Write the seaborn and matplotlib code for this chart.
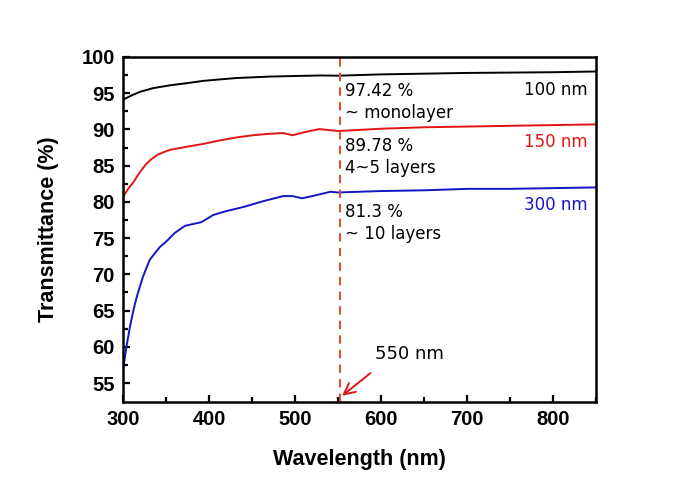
import numpy as np
import pandas as pd
import matplotlib
matplotlib.use("Agg")
import matplotlib.pyplot as plt
import seaborn as sns

# transmittance curves
wl_100 = [300, 310, 320, 335, 355, 375, 393, 412, 432, 452, 471, 490, 509, 530, 550, 600, 650, 700, 750, 800, 850]
t_100 = [94.1, 94.7, 95.2, 95.7, 96.1, 96.4, 96.7, 96.9, 97.1, 97.2, 97.3, 97.35, 97.4, 97.45, 97.42, 97.6, 97.7, 97.8, 97.85, 97.9, 98.0]

wl_150 = [300, 306, 312, 319, 326, 333, 340, 348, 355, 374, 393, 413, 432, 451, 470, 486, 497, 510, 528, 550, 600, 650, 700, 750, 800, 850]
t_150 = [80.7, 81.8, 82.7, 84.0, 85.1, 85.9, 86.5, 86.9, 87.2, 87.6, 88.0, 88.5, 88.9, 89.2, 89.4, 89.5, 89.2, 89.6, 90.05, 89.78, 90.1, 90.3, 90.4, 90.5, 90.6, 90.7]

wl_300 = [300, 304, 308, 312, 316, 323, 331, 343, 350, 360, 372, 391, 405, 419, 440, 463, 486, 497, 508, 520, 541, 550, 600, 650, 700, 750, 800, 850]
t_300 = [56.8, 60.0, 62.7, 65.0, 66.9, 69.6, 72.0, 73.8, 74.5, 75.7, 76.7, 77.2, 78.2, 78.7, 79.3, 80.1, 80.8, 80.8, 80.5, 80.8, 81.4, 81.3, 81.5, 81.6, 81.8, 81.8, 81.9, 82.0]

series_names = ["100 nm", "150 nm", "300 nm"]
series_colors = ["#000000", "#e31414", "#1414c8"]
notes = ["97.42 %\n~ monolayer", "89.78 %\n4~5 layers", "81.3 %\n~ 10 layers"]

df = pd.concat([
    pd.DataFrame({"wl": wl_100, "T": t_100, "film": series_names[0]}),
    pd.DataFrame({"wl": wl_150, "T": t_150, "film": series_names[1]}),
    pd.DataFrame({"wl": wl_300, "T": t_300, "film": series_names[2]}),
])

sns.set_style("ticks")
plt.rcParams["font.family"] = ["DejaVu Sans"]
plt.rcParams["text.color"] = "black"
plt.rcParams["xtick.color"] = "black"
plt.rcParams["ytick.color"] = "black"

fig = plt.figure(figsize=(6.91, 4.83), dpi=100)
ax = fig.add_axes([0.178, 0.168, 0.685, 0.714])

sns.lineplot(data=df, x="wl", y="T", hue="film", palette=series_colors,
             hue_order=series_names, linewidth=1.4, legend=False, ax=ax)

ax.axvline(552, color="#d9542b", linestyle=(0, (4, 3)), linewidth=1.5)

ax.set_xlim(300, 850)
ax.set_ylim(52.4, 100)
ax.set_xticks([300, 400, 500, 600, 700, 800])
ax.set_xticks(np.arange(350, 851, 100), minor=True)
ax.set_yticks(np.arange(55, 101, 5))
ax.set_yticks(np.arange(57.5, 100, 5), minor=True)
ax.tick_params(which="both", direction="in", width=1.6, top=False, right=False)
ax.tick_params(which="major", length=5, pad=6)
ax.tick_params(which="minor", length=3.5)
for sp in ax.spines.values():
    sp.set_linewidth(1.8)
    sp.set_color("black")

label_font = dict(family="Liberation Sans", weight="bold", size=15.5, color="black")
for lab in ax.get_xticklabels() + ax.get_yticklabels():
    lab.set_fontfamily("Liberation Sans")
    lab.set_fontweight("bold")
    lab.set_fontsize(14.5)
ax.set_xlabel("Wavelength (nm)", fontdict=label_font, labelpad=14)
ax.set_ylabel("Transmittance (%)", fontdict=label_font, labelpad=16)

# annotations at 550 nm
note_y = [93.8, 86.2, 77.1]
for txt, y in zip(notes, note_y):
    ax.text(558, y, txt, fontsize=12, va="center", ha="left", linespacing=1.3)

label_y = [95.45, 88.3, 79.6]
for name, col, y in zip(series_names, series_colors, label_y):
    ax.text(840, y, name, color=col, fontsize=12, ha="right", va="center")

ax.annotate("", xy=(552, 53.0), xytext=(590, 56.6),
            arrowprops=dict(arrowstyle="->", color="#e31414", lw=1.4,
                            mutation_scale=20))
ax.text(593, 59.0, "550 nm", fontsize=13, ha="left", va="center")

fig.savefig("out.png", dpi=100)
